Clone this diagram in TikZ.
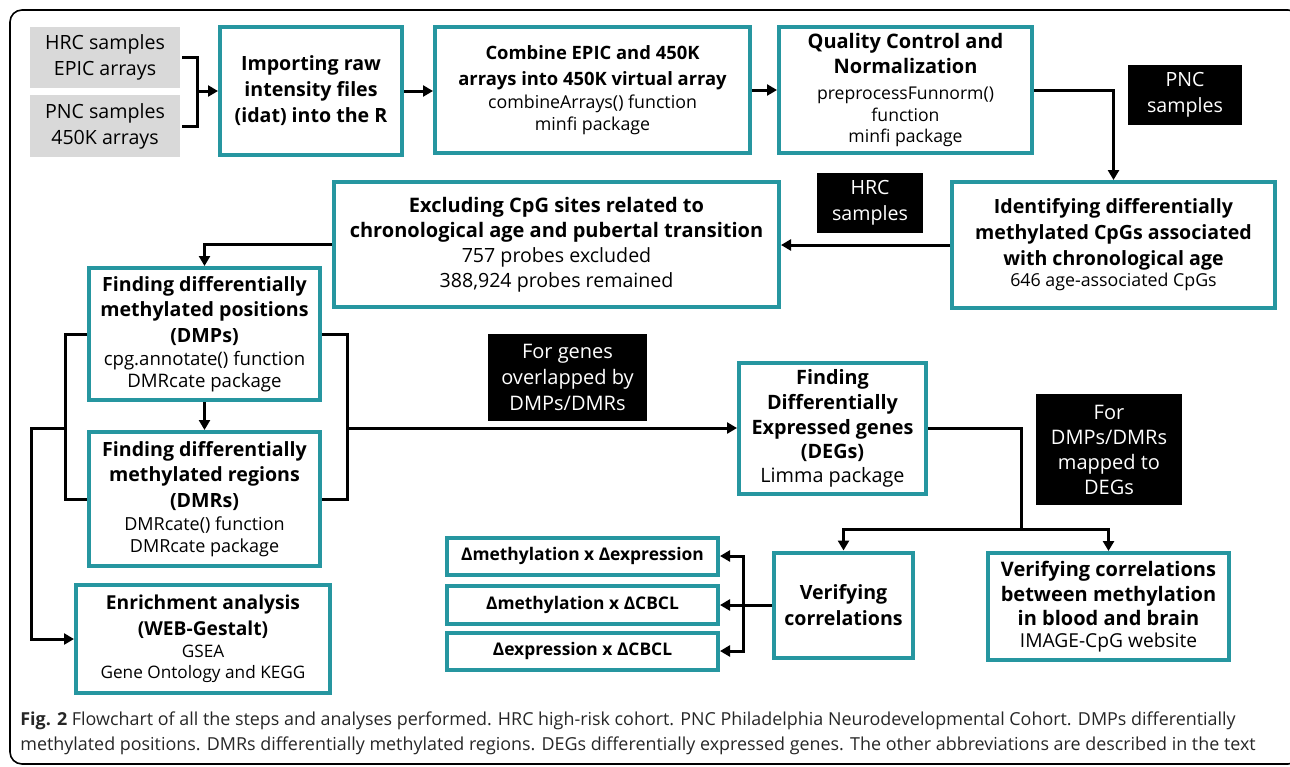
\documentclass[tikz,border=0pt]{standalone}
\usepackage{fontspec}
\setmainfont{Open Sans}
\usepackage{tikz}
\usetikzlibrary{arrows.meta,positioning}
\definecolor{tealc}{RGB}{38,150,160}
\definecolor{grayc}{RGB}{217,217,217}
\newcommand{\flarge}{\fontsize{9.8}{13}\selectfont}
\newcommand{\hd}[2][9.9]{{\fontsize{#1}{12}\selectfont\bfseries #2}}
\tikzset{
  tbox/.style={draw=tealc, line width=2pt, fill=white, align=center, inner sep=1pt, font=\fontsize{#1}{10.8}\selectfont},
  tbox/.default=9,
  gbox/.style={fill=grayc, align=center, inner sep=1pt, font=\flarge},
  kbox/.style={fill=black, text=white, align=center, inner sep=1pt, font=\flarge},
  arr/.style={line width=1.5pt, -{Triangle[length=5pt,width=5.5pt]}},
  lin/.style={line width=1.5pt},
}
\begin{document}
\begin{tikzpicture}[x=0.5pt,y=-0.5pt]
\useasboundingbox (0,0) rectangle (1290,766);
\draw[line width=0.8pt, rounded corners=6pt] (10,10) rectangle (1300,764);

% inputs
\node[gbox, minimum width=75pt, minimum height=30.5pt] (hrc) at (105,57.5) {HRC samples\\EPIC arrays};
\node[gbox, minimum width=75pt, minimum height=31pt] (pnc) at (105,126) {PNC samples\\450K arrays};

% top row
\node[tbox, font=\flarge, minimum width=91pt, minimum height=64pt] (imp) at (311,91)
  {\textbf{Importing raw}\\\textbf{intensity files}\\\textbf{(idat) into the R}};
\node[tbox=8.9, minimum width=157.5pt, minimum height=63pt] (comb) at (592.5,90)
  {\hd[9.2]{Combine EPIC and 450K}\\[2pt]\hd[9.2]{arrays into 450K virtual array}\\[1pt]combineArrays() function\\minfi package};
\node[tbox=8.8, minimum width=126.5pt, minimum height=63pt] (qc) at (905.5,90)
  {\hd[10]{Quality Control and}\\[2pt]\hd[10]{Normalization}\\[2pt]preprocessFunnorm()\\function\\minfi package};
\node[kbox, minimum width=57pt, minimum height=30pt] (pnclab) at (1185,95) {PNC\\samples};

% second row
\node[tbox=8.9, minimum width=161.5pt, minimum height=63pt] (ident) at (1113.5,245)
  {\hd[9.8]{Identifying differentially}\\[2pt]\hd[9.8]{methylated CpGs associated}\\[2pt]\hd[9.8]{with chronological age}\\646 age-associated CpGs};
\node[kbox, minimum width=53pt, minimum height=30pt] (hrclab) at (870,203) {HRC\\samples};
\node[tbox=9.8, minimum width=222.5pt, minimum height=62.5pt] (excl) at (556.5,244.5)
  {\hd[10]{Excluding CpG sites related to}\\[2pt]\hd[10]{chronological age and pubertal transition}\\[1.5pt]757 probes excluded\\[1.5pt]388,924 probes remained};

% DMPs / DMRs
\node[tbox=9.3, minimum width=115.5pt, minimum height=66pt] (dmp) at (204.5,334)
  {\hd[9.8]{Finding differentially}\\[2pt]\hd[9.8]{methylated positions}\\[2pt]\hd[9.8]{(DMPs)}\\[1pt]cpg.annotate() function\\DMRcate package};
\node[tbox=9, minimum width=115.5pt, minimum height=67pt] (dmr) at (204.5,499)
  {\hd[9.8]{Finding differentially}\\[2pt]\hd[9.8]{methylated regions}\\[2pt]\hd[9.8]{(DMRs)}\\[1pt]DMRcate() function\\DMRcate package};
\node[tbox=8.6, minimum width=127pt, minimum height=54pt] (enr) at (203,639)
  {\hd[9.6]{Enrichment analysis}\\[2pt]\hd[9.6]{(WEB-Gestalt)}\\GSEA\\Gene Ontology and KEGG};

% DEGs
\node[kbox, font=\fontsize{10}{11}\selectfont, minimum width=79.5pt, minimum height=43.5pt] (genelab) at (567.5,377.5)
  {For genes\\[2pt]overlapped by\\[2pt]DMPs/DMRs};
\node[tbox=9.9, minimum width=93.5pt, minimum height=65.5pt] (deg) at (832.5,428.5)
  {\hd{Finding}\\[1.5pt]\hd{Differentially}\\[1.5pt]\hd{Expressed genes}\\[1.5pt]\hd{(DEGs)}\\[1pt]Limma package};
\node[kbox, font=\fontsize{10}{11}\selectfont, minimum width=73pt, minimum height=55.5pt] (deglab) at (1109,449.5)
  {For\\[1.5pt]DMPs/DMRs\\[1.5pt]mapped to\\[1.5pt]DEGs};

% correlations
\node[tbox, minimum width=135.5pt, minimum height=18.5pt] (dme) at (582.5,556) {\hd[8.7]{Δmethylation x Δexpression}};
\node[tbox, minimum width=135.5pt, minimum height=19pt] (dmc) at (582.5,605) {\hd[8.7]{Δmethylation x ΔCBCL}};
\node[tbox, minimum width=135.5pt, minimum height=18.5pt] (dxc) at (582.5,651) {\hd[8.7]{Δexpression x ΔCBCL}};
\node[tbox, font=\flarge, minimum width=69.5pt, minimum height=52.5pt] (ver) at (843.5,605)
  {\textbf{Verifying}\\\textbf{correlations}};
\node[tbox=9.6, minimum width=120.5pt, minimum height=53.5pt] (verbb) at (1108.5,606.5)
  {\hd[10]{Verifying correlations}\\[1.5pt]\hd[10]{between methylation}\\[1.5pt]\hd[10]{in blood and brain}\\IMAGE-CpG website};

% connectors
\coordinate (brk) at (197,91);
\draw[lin] ([xshift=1pt]hrc.east) -| (brk) |- ([xshift=1pt]pnc.east);
\draw[arr] (brk) -- (imp.west);
\draw[arr] (imp.east) -- (comb.west |- imp.east);
\draw[arr] (comb.east) -- (qc.west);
\draw[arr] (qc.east) -| (ident.north);
\draw[arr] (ident.west) -- (excl.east |- ident.west);
\draw[arr] (excl.west) -| (dmp.north);
\draw[arr] (dmp) -- (dmr);

\coordinate (lb) at (65,428);
\coordinate (lc) at (31,428);
\draw[lin] (dmp.west) -| (lb) |- (dmr.west);
\draw[arr] (lb) -- (lc) |- (enr.west);

\coordinate (rb) at (347,428);
\draw[lin] (dmp.east) -| (rb) |- (dmr.east);
\draw[arr] (rb) -- (deg.west |- rb);

\coordinate (db) at (1021,529);
\draw[lin] (deg.east) -| (db);
\draw[arr] (db) -| (ver.north);
\draw[arr] (db) -| (verbb.north);

\coordinate (vb) at (743,605);
\draw[lin] (ver.west) -- (vb);
\draw[arr] (vb) |- (dme.east);
\draw[arr] (vb) |- (dmc.east);
\draw[arr] (vb) |- (dxc.east);

% caption
\node[anchor=west, align=left, inner sep=0pt, text=black!85, font=\fontsize{8.95}{12.5}\selectfont] (cap) at (20,733)
  {\textbf{Fig. 2} Flowchart of all the steps and analyses performed. HRC high-risk cohort. PNC Philadelphia Neurodevelopmental Cohort. DMPs differentially\\
   methylated positions. DMRs differentially methylated regions. DEGs differentially expressed genes. The other abbreviations are described in the text};
\end{tikzpicture}
\end{document}
